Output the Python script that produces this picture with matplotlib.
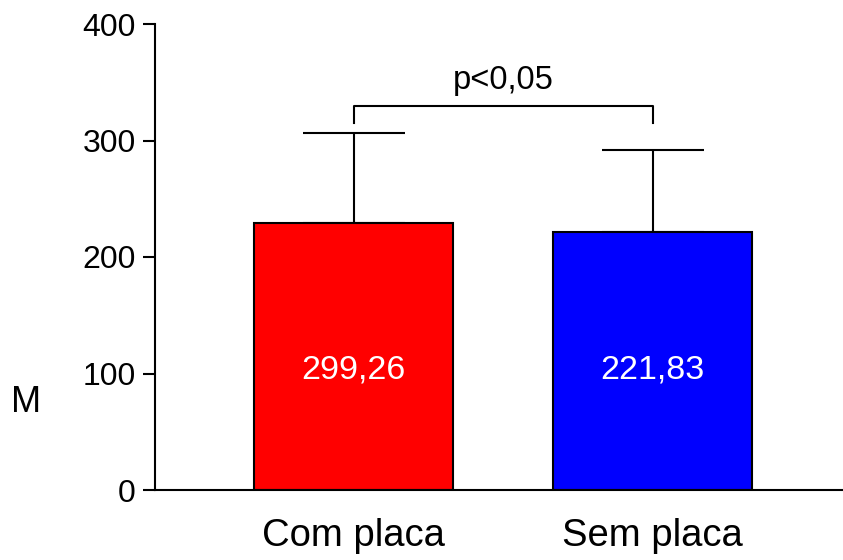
import matplotlib
matplotlib.use("Agg")
import matplotlib.pyplot as plt

plt.rcParams['font.family'] = ['Liberation Sans', 'DejaVu Sans']

# Data
categories = ["Com placa", "Sem placa"]
means = [229.26, 221.83]
errors = [77.0, 70.0]
value_labels = ["299,26", "221,83"]
bar_colors = ["#ff0000", "#0000ff"]
y_ticks = [0, 100, 200, 300, 400]
p_text = "p<0,05"
bracket_y = 330
bracket_drop = 15

fig = plt.figure(figsize=(8.43, 5.6), dpi=100)
ax = fig.add_axes([155 / 843, 1 - 490 / 560, 1 - 155 / 843, (490 - 24) / 560])

x = list(range(len(categories)))
ax.bar(x, means, width=0.666, color=bar_colors, edgecolor="black",
       linewidth=1.5, zorder=2)
ax.errorbar(x, means, yerr=[[0] * len(means), errors], fmt="none",
            ecolor="black", elinewidth=1.5, capsize=37, capthick=1.5, zorder=1)

for xi, m, lab in zip(x, means, value_labels):
    ax.text(xi, 103, lab, color="white", ha="center", va="center", fontsize=24.5)

# significance bracket
ax.plot([x[0], x[0], x[1], x[1]],
        [bracket_y - bracket_drop, bracket_y, bracket_y, bracket_y - bracket_drop],
        color="black", linewidth=1.5)
ax.text((x[0] + x[1]) / 2, bracket_y + 8, p_text, ha="center", va="bottom",
        fontsize=23.5)

ax.set_xlim(-0.664, 1.637)
ax.set_ylim(0, 400)
ax.set_yticks(y_ticks)
ax.set_yticklabels([str(t) for t in y_ticks], fontsize=23)
ax.set_xticks(x)
ax.set_xticklabels(categories, fontsize=27.5)
ax.tick_params(axis="y", length=9, width=1.5, pad=5)
ax.tick_params(axis="x", length=0, pad=20)

for s in ["top", "right"]:
    ax.spines[s].set_visible(False)
for s in ["left", "bottom"]:
    ax.spines[s].set_linewidth(1.5)

fig.text(26 / 843, 1 - 403 / 560, "M", fontsize=26, ha="center", va="center")

fig.savefig("out.png", dpi=100)
